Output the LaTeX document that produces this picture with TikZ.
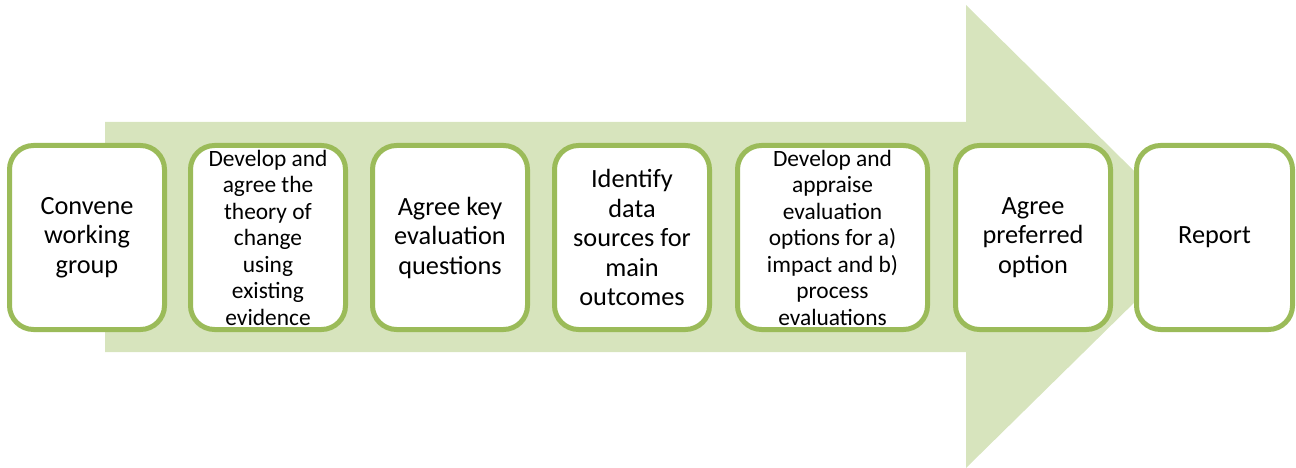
\documentclass[tikz,border=0pt]{standalone}
\usepackage{fontspec}
\setmainfont{Carlito}
\definecolor{boxline}{HTML}{9BBB59}
\definecolor{arrowfill}{HTML}{D7E4BD}
\begin{document}
\begin{tikzpicture}[x=1pt,y=-1pt,
  stepbox/.style={draw=boxline, line width=5pt, fill=white, rounded corners=24pt,
    minimum height=184pt, inner sep=0pt, align=center, text=black},
  bigtext/.style={font=\fontsize{26.3}{29.5}\selectfont},
  smalltext/.style={font=\fontsize{23.4}{26.5}\selectfont}]
\useasboundingbox (0,0) rectangle (1296,468);
\fill[arrowfill] (105,122) -- (966,122) -- (966,5) -- (1201,237) -- (966,468) -- (966,352) -- (105,352) -- cycle;
\node[stepbox, bigtext, minimum width=155pt] (b1) at (87,237.5) {Convene\\working\\group};
\node[stepbox, smalltext, minimum width=155pt] (b2) at (268,237.5) {Develop and\\agree the\\theory of\\change\\using\\existing\\evidence};
\node[stepbox, bigtext, minimum width=155pt] (b3) at (450,237.5) {Agree key\\evaluation\\questions};
\node[stepbox, bigtext, minimum width=155pt] (b4) at (632,237.5) {Identify\\data\\sources for\\main\\outcomes};
\node[stepbox, smalltext, minimum width=190pt] (b5) at (832.5,237.5) {Develop and\\appraise\\evaluation\\options for a)\\impact and b)\\process\\evaluations};
\node[stepbox, bigtext, minimum width=155pt] (b6) at (1033,237.5) {Agree\\preferred\\option};
\node[stepbox, bigtext, minimum width=156pt] (b7) at (1214.5,237.5) {Report};
\end{tikzpicture}
\end{document}
